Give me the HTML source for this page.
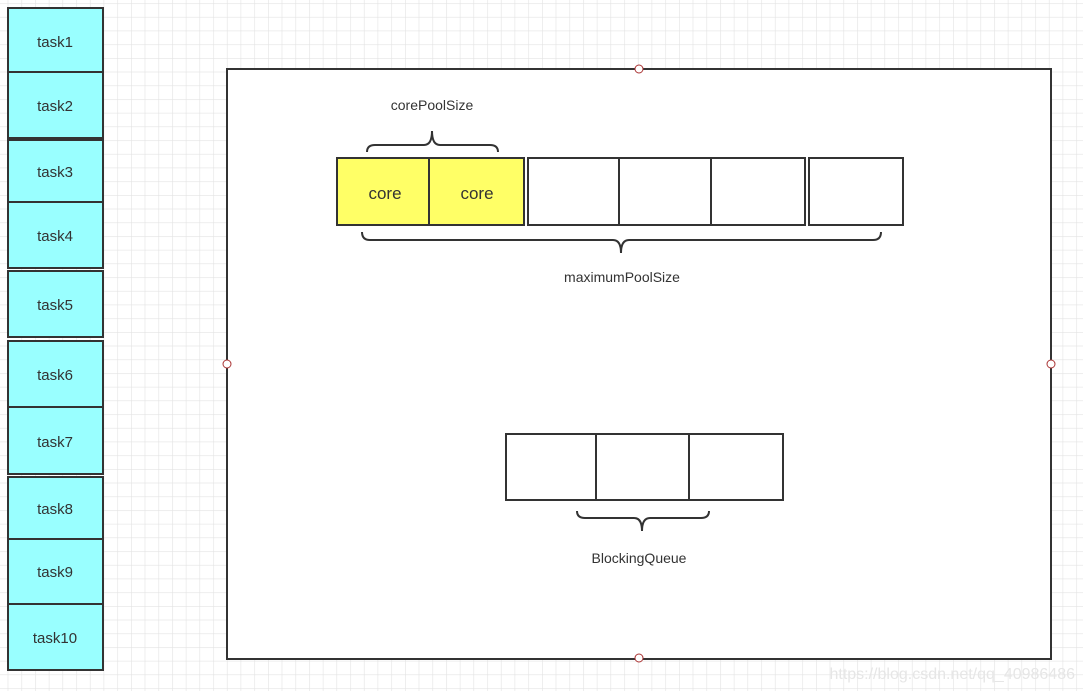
<!DOCTYPE html>
<html><head><meta charset="utf-8"><style>
html,body{margin:0;padding:0;background:#fff;}
svg{display:block;}
text{font-family:"Liberation Sans","DejaVu Sans",sans-serif;}
</style></head><body>
<svg width="1083" height="691" viewBox="0 0 1083 691" xmlns="http://www.w3.org/2000/svg">
<defs>
<pattern id="g" x="7.7" y="3.2" width="13.7" height="13.7" patternUnits="userSpaceOnUse">
<path d="M0 0H13.7M0 0V13.7" stroke="#e3e3e3" stroke-width="1.2" fill="none"/>
</pattern>
</defs>
<rect width="1083" height="691" fill="#fff"/>
<rect width="1083" height="691" fill="url(#g)"/>

<g stroke="#333" stroke-width="2" fill="#99ffff">
<rect x="8" y="8" width="95" height="64"/>
<rect x="8" y="72" width="95" height="66"/>
<rect x="8" y="140" width="95" height="62"/>
<rect x="8" y="202" width="95" height="66"/>
<rect x="8" y="271" width="95" height="66"/>
<rect x="8" y="341" width="95" height="66"/>
<rect x="8" y="407" width="95" height="67"/>
<rect x="8" y="477" width="95" height="62"/>
<rect x="8" y="539" width="95" height="65"/>
<rect x="8" y="604" width="95" height="66"/>
</g>
<g font-size="15" fill="#333" text-anchor="middle">
<text x="55" y="47">task1</text>
<text x="55" y="111">task2</text>
<text x="55" y="177">task3</text>
<text x="55" y="241">task4</text>
<text x="55" y="310">task5</text>
<text x="55" y="380">task6</text>
<text x="55" y="447">task7</text>
<text x="55" y="514">task8</text>
<text x="55" y="577">task9</text>
<text x="55" y="643">task10</text>
</g>

<rect x="227" y="69" width="824" height="590" fill="#fff" stroke="#333" stroke-width="2"/>
<g fill="#fff" stroke="#a33" stroke-width="1">
<circle cx="639" cy="69" r="4"/>
<circle cx="639" cy="658" r="4"/>
<circle cx="227" cy="364" r="4"/>
<circle cx="1051" cy="364" r="4"/>
</g>

<g stroke="#333" stroke-width="2">
<rect x="337" y="158" width="92" height="67" fill="#ffff66"/>
<rect x="429" y="158" width="95" height="67" fill="#ffff66"/>
<rect x="528" y="158" width="91" height="67" fill="#fff"/>
<rect x="619" y="158" width="92" height="67" fill="#fff"/>
<rect x="711" y="158" width="94" height="67" fill="#fff"/>
<rect x="809" y="158" width="94" height="67" fill="#fff"/>
<rect x="506" y="434" width="90" height="66" fill="#fff"/>
<rect x="596" y="434" width="93" height="66" fill="#fff"/>
<rect x="689" y="434" width="94" height="66" fill="#fff"/>
</g>
<g font-size="17" fill="#333" text-anchor="middle">
<text x="385" y="199">core</text>
<text x="477" y="199">core</text>
</g>

<g stroke="#333" stroke-width="2" fill="none">
<path d="M367 152 Q367 145 375 145 L424 145 Q432 145 432 131 Q432 145 440 145 L490 145 Q498 145 498 152"/>
<path d="M362 232 Q362 240 370 240 L613 240 Q621 240 621 253 Q621 240 629 240 L873 240 Q881 240 881 232"/>
<path d="M577 511 Q577 518 585 518 L634 518 Q642 518 642 531 Q642 518 650 518 L701 518 Q709 518 709 511"/>
</g>
<g font-size="14" fill="#333" text-anchor="middle">
<text x="432" y="110">corePoolSize</text>
<text x="622" y="282">maximumPoolSize</text>
<text x="639" y="563">BlockingQueue</text>
</g>
<text x="1075" y="679" font-size="16" fill="#e6e6e6" text-anchor="end">https://blog.csdn.net/qq_40986486</text>
</svg>
</body></html>
